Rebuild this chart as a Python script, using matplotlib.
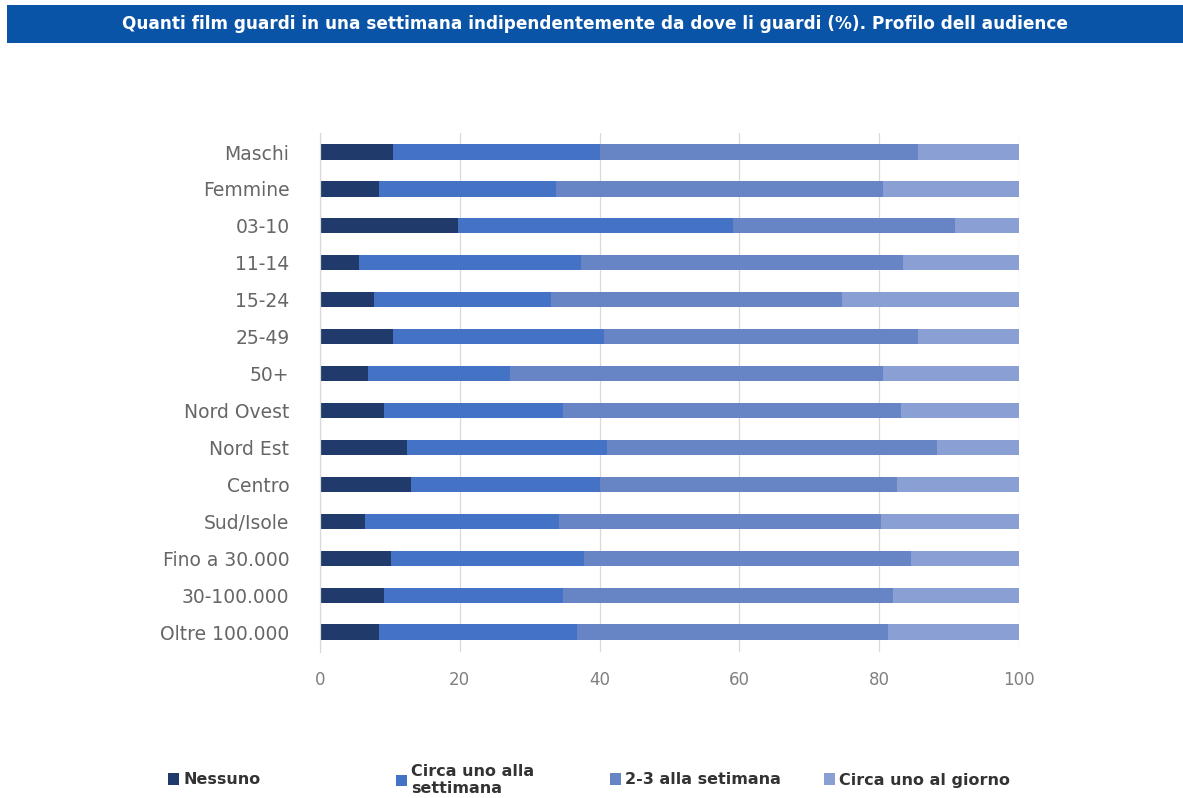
import matplotlib
matplotlib.use("Agg")
import matplotlib.pyplot as plt
from matplotlib.patches import Rectangle
import numpy as np

categories = ["Maschi", "Femmine", "03-10", "11-14", "15-24", "25-49", "50+",
              "Nord Ovest", "Nord Est", "Centro", "Sud/Isole",
              "Fino a 30.000", "30-100.000", "Oltre 100.000"]

nessuno = [10.4, 8.5, 19.7, 5.6, 7.7, 10.4, 6.8, 9.1, 12.4, 13.0, 6.4, 10.1, 9.1, 8.5]
uno_settimana = [29.6, 25.2, 39.4, 31.8, 25.3, 30.3, 20.4, 25.6, 28.7, 27.1, 27.8, 27.6, 25.6, 28.3]
due_tre = [45.5, 46.9, 31.8, 46.0, 41.7, 44.8, 53.3, 48.4, 47.1, 42.4, 46.1, 46.9, 47.3, 44.4]
uno_giorno = [14.5, 19.4, 9.1, 16.6, 25.3, 14.5, 19.5, 16.9, 11.8, 17.5, 19.7, 15.4, 18.0, 18.8]

series_labels = ["Nessuno", "Circa uno alla\nsettimana", "2-3 alla setimana", "Circa uno al giorno"]
series_colors = ["#1f3a6b", "#4472c4", "#6785c5", "#8a9fd4"]
x_ticks = [0, 20, 40, 60, 80, 100]

fig = plt.figure(figsize=(11.83, 7.98), dpi=100)
fig.patch.set_facecolor("white")

# title band
fig.add_artist(Rectangle((7 / 1183, 1 - 43 / 798), 1 - 7 / 1183, 38 / 798,
                         transform=fig.transFigure, facecolor="#0a54a8",
                         edgecolor="none"))
fig.text(595 / 1183, 1 - 24 / 798,
         "Quanti film guardi in una settimana indipendentemente da dove li guardi (%). Profilo dell audience",
         color="white", fontsize=12.2, fontweight="bold", ha="center", va="center",
         family="DejaVu Sans")

ax = fig.add_axes([320 / 1183, 1 - 652 / 798, 699 / 1183, (652 - 133) / 798])

y = np.arange(len(categories))
left = np.zeros(len(categories))
handles = []
for vals, col, lab in zip([nessuno, uno_settimana, due_tre, uno_giorno], series_colors, series_labels):
    b = ax.barh(y, vals, left=left, height=0.41, color=col, label=lab, zorder=2)
    handles.append(b)
    left = left + np.array(vals)

ax.set_xlim(0, 100)
ax.set_ylim(13.54, -0.515)
ax.set_xticks(x_ticks)
ax.set_xticklabels([str(t) for t in x_ticks])
ax.set_yticks(y)
ax.set_yticklabels(categories)
ax.tick_params(axis="y", length=0, pad=22, labelsize=13.5, labelcolor="#666666")
ax.tick_params(axis="x", length=0, pad=14, labelsize=12, labelcolor="#808080")
ax.grid(axis="x", color="#d9d9d9", linewidth=0.9, zorder=0)
for s in ["top", "right", "bottom"]:
    ax.spines[s].set_visible(False)
ax.spines["left"].set_color("#d9d9d9")
ax.spines["left"].set_linewidth(0.9)

# legend entries
leg_x = [168, 396, 610, 824]
for h, lab, xp in zip(handles, series_labels, leg_x):
    fig.legend([h], [lab], loc="center left",
               bbox_to_anchor=(xp / 1183, 1 - 780 / 798),
               frameon=False, handlelength=0.7, handleheight=0.7,
               handletextpad=0.25, borderpad=0, borderaxespad=0,
               prop={"size": 11.5, "weight": "bold"}, labelcolor="#333333")

fig.savefig("out.png", dpi=100, facecolor="white")
